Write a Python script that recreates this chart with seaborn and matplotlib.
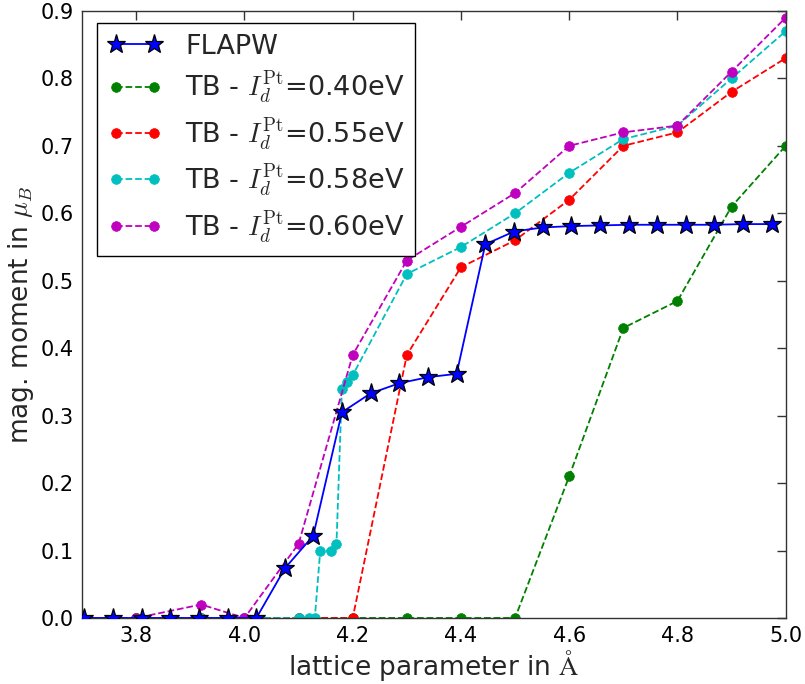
import matplotlib
matplotlib.use("Agg")
import matplotlib.pyplot as plt
import seaborn as sns
import pandas as pd

# FLAPW reference calculation (lattice parameter in Angstrom, moment in mu_B)
flapw_a = [3.704, 3.757, 3.810, 3.863, 3.916, 3.969, 4.022, 4.075, 4.127,
           4.180, 4.233, 4.286, 4.339, 4.392, 4.445, 4.498, 4.551, 4.604,
           4.657, 4.710, 4.763, 4.815, 4.868, 4.921, 4.974]
flapw_m = [0.0, 0.0, 0.0, 0.0, 0.0, 0.0, 0.0, 0.074, 0.122,
           0.305, 0.333, 0.348, 0.357, 0.362, 0.554, 0.573, 0.579, 0.581,
           0.582, 0.583, 0.583, 0.583, 0.583, 0.584, 0.584]

# Tight-binding results for several Stoner parameters of Pt
tb040_a = [3.70, 3.80, 3.92, 4.00, 4.10, 4.20, 4.30, 4.40, 4.50, 4.60, 4.70, 4.80, 4.90, 5.00]
tb040_m = [0.0, 0.0, 0.0, 0.0, 0.0, 0.0, 0.0, 0.0, 0.0, 0.21, 0.43, 0.47, 0.61, 0.70]

tb055_a = [3.70, 3.80, 3.92, 4.00, 4.10, 4.20, 4.30, 4.40, 4.50, 4.60, 4.70, 4.80, 4.90, 5.00]
tb055_m = [0.0, 0.0, 0.0, 0.0, 0.0, 0.0, 0.39, 0.52, 0.56, 0.62, 0.70, 0.72, 0.78, 0.83]

tb058_a = [3.70, 3.80, 3.92, 4.00, 4.10, 4.12, 4.13, 4.14, 4.16, 4.17, 4.18, 4.19, 4.20,
           4.30, 4.40, 4.50, 4.60, 4.70, 4.80, 4.90, 5.00]
tb058_m = [0.0, 0.0, 0.0, 0.0, 0.0, 0.0, 0.0, 0.10, 0.10, 0.11, 0.34, 0.35, 0.36,
           0.51, 0.55, 0.60, 0.66, 0.71, 0.73, 0.80, 0.87]

tb060_a = [3.70, 3.80, 3.92, 4.00, 4.10, 4.20, 4.30, 4.40, 4.50, 4.60, 4.70, 4.80, 4.90, 5.00]
tb060_m = [0.0, 0.0, 0.02, 0.0, 0.11, 0.39, 0.53, 0.58, 0.63, 0.70, 0.72, 0.73, 0.81, 0.89]

labels = ["FLAPW",
          r"TB - $I_d^{\rm Pt}$=0.40eV",
          r"TB - $I_d^{\rm Pt}$=0.55eV",
          r"TB - $I_d^{\rm Pt}$=0.58eV",
          r"TB - $I_d^{\rm Pt}$=0.60eV"]
x_ticks = [3.8, 4.0, 4.2, 4.4, 4.6, 4.8, 5.0]
y_ticks = [0.0, 0.1, 0.2, 0.3, 0.4, 0.5, 0.6, 0.7, 0.8, 0.9]

sns.set_style("white")
plt.rcParams.update({
    "font.family": ["DejaVu Sans"],
    "mathtext.fontset": "cm",
    "font.size": 15,
    "xtick.direction": "in",
    "ytick.direction": "in",
    "xtick.top": True,
    "ytick.right": True,
    "xtick.major.size": 6.5,
    "ytick.major.size": 6.5,
    "xtick.major.width": 1.0,
    "ytick.major.width": 1.0,
    "xtick.color": "#333333",
    "ytick.color": "#333333",
    "xtick.labelcolor": "black",
    "ytick.labelcolor": "black",
    "xtick.major.pad": 6,
    "ytick.major.pad": 6,
})

fig = plt.figure(figsize=(8.05, 6.84), dpi=100)
ax = fig.add_axes([0.102, 0.0965, 0.874, 0.8875])

tb_sets = [(tb040_a, tb040_m, "g", labels[1]),
           (tb055_a, tb055_m, "r", labels[2]),
           (tb058_a, tb058_m, "c", labels[3]),
           (tb060_a, tb060_m, "m", labels[4])]

df = pd.DataFrame({"a": flapw_a, "m": flapw_m})
sns.lineplot(data=df, x="a", y="m", ax=ax, color="b", linestyle="-",
             linewidth=1.3, marker="*", markersize=14, markerfacecolor="b",
             markeredgecolor="black", markeredgewidth=0.9, label=labels[0],
             estimator=None, sort=False, zorder=5)

for a_vals, m_vals, col, lab in tb_sets:
    d = pd.DataFrame({"a": a_vals, "m": m_vals})
    sns.lineplot(data=d, x="a", y="m", ax=ax, color=col, linestyle="--",
                 linewidth=1.3, marker="o", markersize=7, markerfacecolor=col,
                 markeredgecolor=col, markeredgewidth=0.5, label=lab,
                 estimator=None, sort=False, dashes=False)

ax.set_xlim(3.7, 5.0)
ax.set_ylim(0.0, 0.9)
ax.set_xticks(x_ticks)
ax.set_yticks(y_ticks)
ax.set_xticklabels([f"{t:.1f}" for t in x_ticks], fontsize=15)
ax.set_yticklabels([f"{t:.1f}" for t in y_ticks], fontsize=15)
ax.set_xlabel(r"lattice parameter in $\mathrm{\AA}$", fontsize=19, labelpad=1)
ax.set_ylabel(r"mag. moment in $\mu_B$", fontsize=19, labelpad=3)

for sp in ax.spines.values():
    sp.set_visible(True)
    sp.set_color("#333333")
    sp.set_linewidth(1.0)

leg = ax.legend(loc="upper left", bbox_to_anchor=(0.021, 0.980), numpoints=2,
                fontsize=19.5, fancybox=False, framealpha=1, edgecolor="black",
                borderaxespad=0.0, labelspacing=0.36, handlelength=2.0,
                handletextpad=0.85, borderpad=0.4)
leg.get_frame().set_linewidth(1.0)

fig.savefig("out.png", dpi=100)
